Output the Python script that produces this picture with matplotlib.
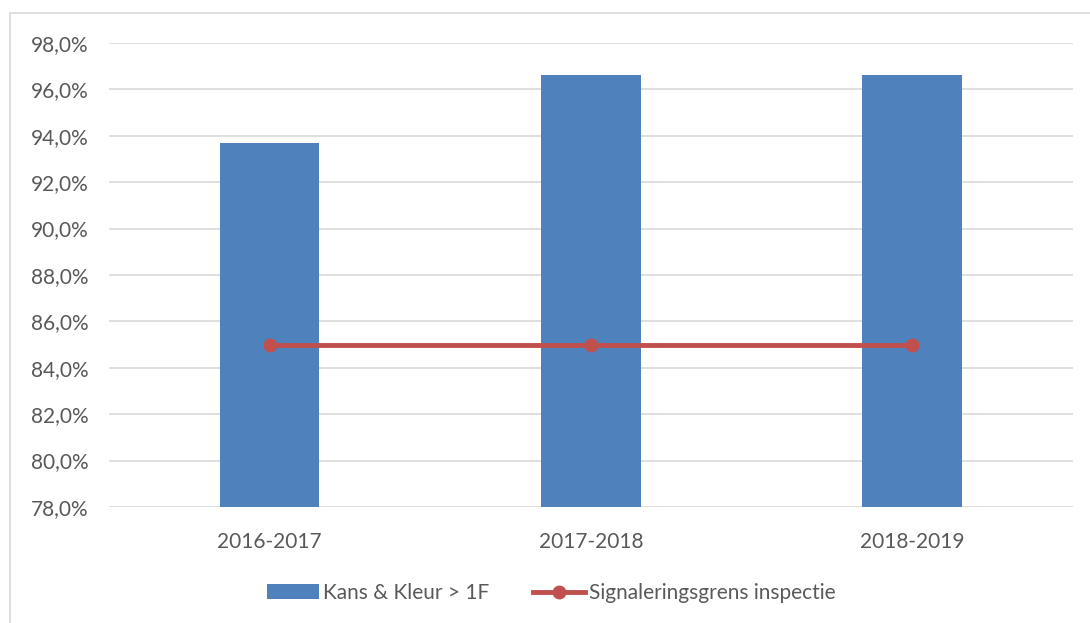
import matplotlib.pyplot as plt
from matplotlib.ticker import FuncFormatter
from matplotlib.patches import Rectangle

plt.rcParams['font.family'] = ['Lato', 'DejaVu Sans']

jaren = ['2016-2017', '2017-2018', '2018-2019']
kans_kleur = [93.7, 96.6, 96.6]
signaleringsgrens = [85.0, 85.0, 85.0]

fig = plt.figure(figsize=(10.9, 6.23), dpi=100)
ax = fig.add_axes([0.1, 0.1862, 0.884, 0.745])

# chart frame (clipped at the right / bottom like the screenshot)
fig.patches.append(Rectangle((10 / 1090, -0.1), 1.2, 1 - 13 / 623 + 0.1,
                             transform=fig.transFigure, fill=False,
                             edgecolor='#d9d9d9', linewidth=1.2))

x = range(len(jaren))
bars = ax.bar(x, [v - 78 for v in kans_kleur], bottom=78, width=0.31,
              color='#4f81bd', label='Kans & Kleur > 1F', zorder=2)
line, = ax.plot(x, signaleringsgrens, color='#c0504d', linewidth=3.5,
                marker='o', markersize=9, label='Signaleringsgrens inspectie', zorder=3)

ax.set_xlim(-0.5, 2.5)
ax.set_ylim(78, 98)
ax.set_yticks(range(78, 99, 2))
ax.yaxis.set_major_formatter(FuncFormatter(lambda v, p: f'{v:.1f}%'.replace('.', ',')))
ax.set_xticks(list(x))
ax.set_xticklabels(jaren)
ax.grid(axis='y', color='#d9d9d9', linewidth=1.2, zorder=0)
for s in ax.spines.values():
    s.set_visible(False)
ax.tick_params(length=0, labelsize=15, colors='#595959')
ax.tick_params(axis='x', pad=18)
ax.tick_params(axis='y', pad=15)

ax.legend([bars, line], ['Kans & Kleur > 1F', 'Signaleringsgrens inspectie'],
          loc='center', bbox_to_anchor=(0.459, -0.185), ncol=2, frameon=False,
          fontsize=15, labelcolor='#595959', handlelength=2.5,
          handletextpad=0.2, columnspacing=2.1)

fig.savefig('out.png', dpi=100)
